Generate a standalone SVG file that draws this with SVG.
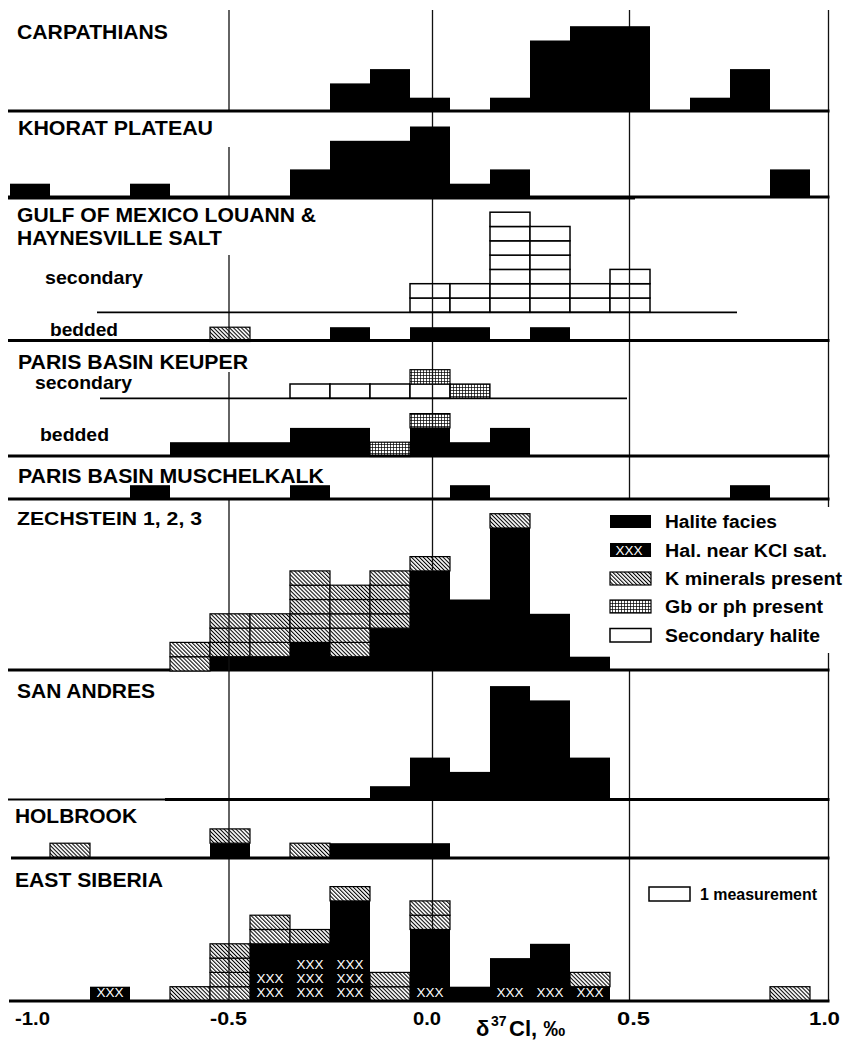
<svg xmlns="http://www.w3.org/2000/svg" width="844" height="1041" viewBox="0 0 844 1041">
<defs>
<pattern id="hatch" width="2.8" height="2.8" patternUnits="userSpaceOnUse" patternTransform="rotate(-45)">
<rect width="2.8" height="2.8" fill="#fff"/>
<line x1="0.5" y1="0" x2="0.5" y2="2.8" stroke="#000" stroke-width="1.1"/>
</pattern>
<pattern id="grid" width="3" height="3" patternUnits="userSpaceOnUse">
<rect width="3" height="3" fill="#fff"/>
<path d="M0 0.4H3M0.4 0V3" stroke="#000" stroke-width="0.8" fill="none"/>
</pattern>
<style>
.k{fill:#000}
.h{fill:url(#hatch);stroke:#000;stroke-width:1.2}
.g{fill:url(#grid);stroke:#000;stroke-width:1.2}
.w{fill:#fff;stroke:#000;stroke-width:1.5}
.base{stroke:#000;stroke-width:3;fill:none}
.thin{stroke:#000;stroke-width:1.8;fill:none}
.vl{stroke:#111;stroke-width:1.3;fill:none}
.t{font-family:"Liberation Sans",Arial,Helvetica,sans-serif;font-weight:bold;font-size:20px;fill:#000}
.s{font-family:"Liberation Sans",Arial,Helvetica,sans-serif;font-weight:bold;font-size:19px;fill:#000}
.lg{font-family:"Liberation Sans",Arial,Helvetica,sans-serif;font-weight:bold;font-size:18px;fill:#000}
.ax{font-family:"Liberation Sans",Arial,Helvetica,sans-serif;font-weight:bold;font-size:18px;fill:#000}
.x{font-family:"Liberation Sans",Arial,Helvetica,sans-serif;font-size:12px;fill:#fff;text-anchor:middle}
</style>
</defs>
<rect width="844" height="1041" fill="#fff"/>

<g id="gridlines">
<path class="vl" d="M229 10V112M229 147V198M229 255V341M229 372V456M229 498V1001"/>
<path class="vl" d="M432.5 10V1001"/>
<path class="vl" d="M629.5 10V499M629.5 670V1001"/>
<path class="vl" d="M828.5 10V507M828.5 653V1001"/>
</g>

<g id="panel-carpathians">
<text class="t" x="17" y="38.5" textLength="151" lengthAdjust="spacingAndGlyphs">CARPATHIANS</text>
<rect class="k" x="330" y="83.4" width="40" height="28.6"/>
<rect class="k" x="370" y="69.1" width="40" height="42.9"/>
<rect class="k" x="410" y="97.7" width="40" height="14.3"/>
<rect class="k" x="490" y="97.7" width="40" height="14.3"/>
<rect class="k" x="530" y="40.5" width="40" height="71.5"/>
<rect class="k" x="570" y="26.2" width="80" height="85.8"/>
<rect class="k" x="690" y="97.7" width="40" height="14.3"/>
<rect class="k" x="730" y="69.1" width="40" height="42.9"/>
<path class="base" d="M8 111H829.5"/>
</g>

<g id="panel-khorat">
<text class="t" x="18" y="135" textLength="195" lengthAdjust="spacingAndGlyphs">KHORAT PLATEAU</text>
<rect class="k" x="10" y="183.7" width="40" height="14.3"/>
<rect class="k" x="130" y="183.7" width="40" height="14.3"/>
<rect class="k" x="290" y="169.4" width="40" height="28.6"/>
<rect class="k" x="330" y="140.8" width="80" height="57.2"/>
<rect class="k" x="410" y="126.5" width="40" height="71.5"/>
<rect class="k" x="450" y="183.7" width="40" height="14.3"/>
<rect class="k" x="490" y="169.4" width="40" height="28.6"/>
<rect class="k" x="770" y="169.4" width="40" height="28.6"/>
<path class="base" d="M8 197.5H635" style="stroke-width:4"/>
<path class="base" d="M635 197H829.5"/>
</g>

<g id="panel-gulf">
<text class="t" x="17" y="222" textLength="299" lengthAdjust="spacingAndGlyphs">GULF OF MEXICO LOUANN &amp;</text>
<text class="t" x="17" y="245" textLength="205" lengthAdjust="spacingAndGlyphs">HAYNESVILLE SALT</text>
<text class="s" x="45" y="284" textLength="98" lengthAdjust="spacingAndGlyphs">secondary</text>
<g id="gulf-secondary">
<rect class="w" x="410" y="298" width="40" height="14.3"/>
<rect class="w" x="410" y="283.7" width="40" height="14.3"/>
<rect class="w" x="450" y="298" width="40" height="14.3"/>
<rect class="w" x="450" y="283.7" width="40" height="14.3"/>
<rect class="w" x="490" y="298" width="40" height="14.3"/>
<rect class="w" x="490" y="283.7" width="40" height="14.3"/>
<rect class="w" x="490" y="269.4" width="40" height="14.3"/>
<rect class="w" x="490" y="255.1" width="40" height="14.3"/>
<rect class="w" x="490" y="240.8" width="40" height="14.3"/>
<rect class="w" x="490" y="226.5" width="40" height="14.3"/>
<rect class="w" x="490" y="212.2" width="40" height="14.3"/>
<rect class="w" x="530" y="298" width="40" height="14.3"/>
<rect class="w" x="530" y="283.7" width="40" height="14.3"/>
<rect class="w" x="530" y="269.4" width="40" height="14.3"/>
<rect class="w" x="530" y="255.1" width="40" height="14.3"/>
<rect class="w" x="530" y="240.8" width="40" height="14.3"/>
<rect class="w" x="530" y="226.5" width="40" height="14.3"/>
<rect class="w" x="570" y="298" width="40" height="14.3"/>
<rect class="w" x="570" y="283.7" width="40" height="14.3"/>
<rect class="w" x="610" y="298" width="40" height="14.3"/>
<rect class="w" x="610" y="283.7" width="40" height="14.3"/>
<rect class="w" x="610" y="269.4" width="40" height="14.3"/>
<path class="vl" d="M432.5 283.7V312.3M629.5 269.4V312.3"/>
<path class="thin" d="M97 312.3H737"/>
</g>
<text class="s" x="50" y="336" textLength="68" lengthAdjust="spacingAndGlyphs">bedded</text>
<rect class="h" x="210" y="327.2" width="40" height="14.3"/>
<path class="vl" d="M229 327.2V341.5"/>
<rect class="k" x="330" y="327.2" width="40" height="14.3"/>
<rect class="k" x="410" y="327.2" width="80" height="14.3"/>
<rect class="k" x="530" y="327.2" width="40" height="14.3"/>
<path class="base" d="M8 340.5H829.5"/>
</g>

<g id="panel-keuper">
<text class="t" x="18" y="369" textLength="230" lengthAdjust="spacingAndGlyphs">PARIS BASIN KEUPER</text>
<text class="s" x="35" y="389" textLength="97" lengthAdjust="spacingAndGlyphs">secondary</text>
<rect class="w" x="290" y="384" width="40" height="14.3"/>
<rect class="w" x="330" y="384" width="40" height="14.3"/>
<rect class="w" x="370" y="384" width="40" height="14.3"/>
<rect class="w" x="410" y="384" width="40" height="14.3"/>
<rect class="g" x="410" y="369.7" width="40" height="14.3"/>
<rect class="g" x="450" y="384" width="40" height="14.3"/>
<path class="vl" d="M432.5 369.7V398.3"/>
<path class="thin" d="M100 398.3H627"/>
<text class="s" x="40" y="441" textLength="69" lengthAdjust="spacingAndGlyphs">bedded</text>
<rect class="k" x="170" y="442.2" width="120" height="14.3"/>
<rect class="k" x="290" y="427.9" width="80" height="28.6"/>
<rect class="g" x="370" y="442.2" width="40" height="14.3"/>
<rect class="k" x="410" y="427.9" width="40" height="28.6"/>
<rect class="g" x="410" y="413.6" width="40" height="14.3"/>
<rect class="k" x="450" y="442.2" width="40" height="14.3"/>
<rect class="k" x="490" y="427.9" width="40" height="28.6"/>
<path class="vl" d="M432.5 413.6V427.9"/>
<path class="base" d="M8 456H829.5"/>
</g>

<g id="panel-muschelkalk">
<text class="t" x="18" y="483" textLength="306" lengthAdjust="spacingAndGlyphs">PARIS BASIN MUSCHELKALK</text>
<rect class="k" x="130" y="485.2" width="40" height="14.3"/>
<rect class="k" x="290" y="485.2" width="40" height="14.3"/>
<rect class="k" x="450" y="485.2" width="40" height="14.3"/>
<rect class="k" x="730" y="485.2" width="40" height="14.3"/>
<path class="base" d="M8 499H829.5"/>
</g>

<g id="panel-zechstein">
<text class="t" x="17" y="525" style="font-size:19px" textLength="185" lengthAdjust="spacingAndGlyphs">ZECHSTEIN 1, 2, 3</text>
<path class="base" d="M8 670H829.5"/>
<rect class="h" x="170" y="656.7" width="40" height="14.3"/>
<rect class="h" x="170" y="642.4" width="40" height="14.3"/>
<rect class="k" x="210" y="656.7" width="80" height="14.3"/>
<rect class="h" x="210" y="642.4" width="40" height="14.3"/>
<rect class="h" x="210" y="628.1" width="40" height="14.3"/>
<rect class="h" x="210" y="613.8" width="40" height="14.3"/>
<rect class="h" x="250" y="642.4" width="40" height="14.3"/>
<rect class="h" x="250" y="628.1" width="40" height="14.3"/>
<rect class="h" x="250" y="613.8" width="40" height="14.3"/>
<rect class="k" x="290" y="642.4" width="40" height="28.6"/>
<rect class="h" x="290" y="628.1" width="40" height="14.3"/>
<rect class="h" x="290" y="613.8" width="40" height="14.3"/>
<rect class="h" x="290" y="599.5" width="40" height="14.3"/>
<rect class="h" x="290" y="585.2" width="40" height="14.3"/>
<rect class="h" x="290" y="570.9" width="40" height="14.3"/>
<rect class="k" x="330" y="656.7" width="40" height="14.3"/>
<rect class="h" x="330" y="642.4" width="40" height="14.3"/>
<rect class="h" x="330" y="628.1" width="40" height="14.3"/>
<rect class="h" x="330" y="613.8" width="40" height="14.3"/>
<rect class="h" x="330" y="599.5" width="40" height="14.3"/>
<rect class="h" x="330" y="585.2" width="40" height="14.3"/>
<rect class="k" x="370" y="628.1" width="40" height="42.9"/>
<rect class="h" x="370" y="613.8" width="40" height="14.3"/>
<rect class="h" x="370" y="599.5" width="40" height="14.3"/>
<rect class="h" x="370" y="585.2" width="40" height="14.3"/>
<rect class="h" x="370" y="570.9" width="40" height="14.3"/>
<rect class="k" x="410" y="570.9" width="40" height="100.1"/>
<rect class="h" x="410" y="556.6" width="40" height="14.3"/>
<rect class="k" x="450" y="599.5" width="40" height="71.5"/>
<rect class="k" x="490" y="528" width="40" height="143"/>
<rect class="h" x="490" y="513.7" width="40" height="14.3"/>
<rect class="k" x="530" y="613.8" width="40" height="57.2"/>
<rect class="k" x="570" y="656.7" width="40" height="14.3"/>
<path class="vl" d="M229 613.8V671M432.5 556.6V570.9"/>
</g>

<g id="legend">
<rect class="k" x="610" y="515" width="41" height="13"/>
<text class="lg" x="665" y="528" textLength="112" lengthAdjust="spacingAndGlyphs">Halite facies</text>
<rect class="k" x="610" y="543" width="41" height="14"/>
<text class="x" x="629" y="554.5" textLength="27" lengthAdjust="spacingAndGlyphs">XXX</text>
<text class="lg" x="665" y="557" textLength="162" lengthAdjust="spacingAndGlyphs">Hal. near KCl sat.</text>
<rect class="h" x="610" y="572" width="41" height="13"/>
<text class="lg" x="665" y="585" textLength="177" lengthAdjust="spacingAndGlyphs">K minerals present</text>
<rect class="g" x="610" y="600" width="41" height="13"/>
<text class="lg" x="665" y="613" textLength="158" lengthAdjust="spacingAndGlyphs">Gb or ph present</text>
<rect class="w" x="610" y="628.5" width="41" height="13.5"/>
<text class="lg" x="665" y="642" textLength="155" lengthAdjust="spacingAndGlyphs">Secondary halite</text>
</g>

<g id="panel-san-andres">
<text class="t" x="17" y="698" textLength="138" lengthAdjust="spacingAndGlyphs">SAN ANDRES</text>
<rect class="k" x="370" y="786.2" width="40" height="14.3"/>
<rect class="k" x="410" y="757.6" width="40" height="42.9"/>
<rect class="k" x="450" y="771.9" width="40" height="28.6"/>
<rect class="k" x="490" y="686.1" width="40" height="114.4"/>
<rect class="k" x="530" y="700.4" width="40" height="100.1"/>
<rect class="k" x="570" y="757.6" width="40" height="42.9"/>
<path class="base" d="M8 799.5H165" style="stroke-width:2"/>
<path class="base" d="M165 799.5H829.5"/>
</g>

<g id="panel-holbrook">
<text class="t" x="15" y="823" textLength="122" lengthAdjust="spacingAndGlyphs">HOLBROOK</text>
<rect class="h" x="50" y="843.2" width="40" height="14.3"/>
<rect class="k" x="210" y="843.2" width="40" height="14.3"/>
<rect class="h" x="210" y="828.9" width="40" height="14.3"/>
<rect class="h" x="290" y="843.2" width="40" height="14.3"/>
<rect class="k" x="330" y="843.2" width="120" height="14.3"/>
<path class="vl" d="M229 828.9V843.2"/>
<path class="base" d="M11 858H829.5"/>
</g>

<g id="panel-east-siberia">
<text class="t" x="15" y="887" textLength="148" lengthAdjust="spacingAndGlyphs">EAST SIBERIA</text>
<rect class="w" x="649" y="887" width="41" height="14"/>
<text class="lg" x="700" y="900" style="font-size:16px" textLength="117" lengthAdjust="spacingAndGlyphs">1 measurement</text>
<rect class="k" x="90" y="986.7" width="40" height="14.3"/>
<rect class="h" x="170" y="986.7" width="40" height="14.3"/>
<rect class="h" x="210" y="986.7" width="40" height="14.3"/>
<rect class="h" x="210" y="972.4" width="40" height="14.3"/>
<rect class="h" x="210" y="958.1" width="40" height="14.3"/>
<rect class="h" x="210" y="943.8" width="40" height="14.3"/>
<rect class="k" x="250" y="943.8" width="80" height="57.2"/>
<rect class="h" x="250" y="929.5" width="40" height="14.3"/>
<rect class="h" x="250" y="915.2" width="40" height="14.3"/>
<rect class="h" x="290" y="929.5" width="40" height="14.3"/>
<rect class="k" x="330" y="900.9" width="40" height="100.1"/>
<rect class="h" x="330" y="886.6" width="40" height="14.3"/>
<rect class="h" x="370" y="986.7" width="40" height="14.3"/>
<rect class="h" x="370" y="972.4" width="40" height="14.3"/>
<rect class="k" x="410" y="929.5" width="40" height="71.5"/>
<rect class="h" x="410" y="915.2" width="40" height="14.3"/>
<rect class="h" x="410" y="900.9" width="40" height="14.3"/>
<rect class="k" x="450" y="986.7" width="40" height="14.3"/>
<rect class="k" x="490" y="958.1" width="40" height="42.9"/>
<rect class="k" x="530" y="943.8" width="40" height="57.2"/>
<rect class="k" x="570" y="986.7" width="40" height="14.3"/>
<rect class="h" x="570" y="972.4" width="40" height="14.3"/>
<rect class="h" x="770" y="986.7" width="40" height="14.3"/>
<path class="vl" d="M229 943.8V1001M432.5 900.9V929.5"/>
<g id="xxx-marks">
<text class="x" x="110" y="997" textLength="27" lengthAdjust="spacingAndGlyphs">XXX</text>
<text class="x" x="270" y="997" textLength="27" lengthAdjust="spacingAndGlyphs">XXX</text>
<text class="x" x="270" y="982.5" textLength="27" lengthAdjust="spacingAndGlyphs">XXX</text>
<text class="x" x="310" y="997" textLength="27" lengthAdjust="spacingAndGlyphs">XXX</text>
<text class="x" x="310" y="982.5" textLength="27" lengthAdjust="spacingAndGlyphs">XXX</text>
<text class="x" x="310" y="968.5" textLength="27" lengthAdjust="spacingAndGlyphs">XXX</text>
<text class="x" x="350" y="997" textLength="27" lengthAdjust="spacingAndGlyphs">XXX</text>
<text class="x" x="350" y="982.5" textLength="27" lengthAdjust="spacingAndGlyphs">XXX</text>
<text class="x" x="350" y="968.5" textLength="27" lengthAdjust="spacingAndGlyphs">XXX</text>
<text class="x" x="430" y="997" textLength="27" lengthAdjust="spacingAndGlyphs">XXX</text>
<text class="x" x="510" y="997" textLength="27" lengthAdjust="spacingAndGlyphs">XXX</text>
<text class="x" x="550" y="997" textLength="27" lengthAdjust="spacingAndGlyphs">XXX</text>
<text class="x" x="590" y="997" textLength="27" lengthAdjust="spacingAndGlyphs">XXX</text>
</g>
<path class="base" d="M9 1001H829.5"/>
</g>

<g id="axis-labels">
<text class="ax" x="15" y="1025" textLength="35" lengthAdjust="spacingAndGlyphs">-1.0</text>
<text class="ax" x="210" y="1025" textLength="37" lengthAdjust="spacingAndGlyphs">-0.5</text>
<text class="ax" x="413" y="1025" textLength="28" lengthAdjust="spacingAndGlyphs">0.0</text>
<text class="ax" x="617" y="1025" textLength="33" lengthAdjust="spacingAndGlyphs">0.5</text>
<text class="ax" x="809" y="1025" textLength="31" lengthAdjust="spacingAndGlyphs">1.0</text>
<text class="ax" style="font-size:22px" y="1036"><tspan x="476">δ</tspan><tspan x="491" y="1026" style="font-size:14px">37</tspan><tspan x="509" y="1036">Cl, ‰</tspan></text>
</g>
</svg>
